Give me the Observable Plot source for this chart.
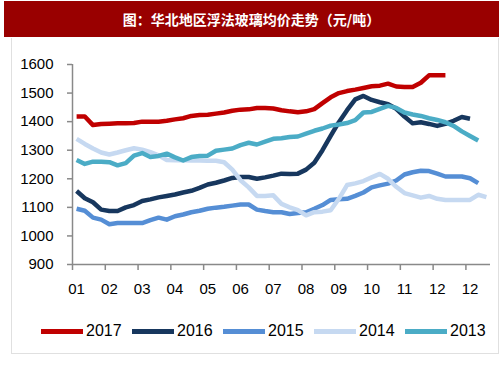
<!DOCTYPE html>
<html>
<head>
<meta charset="utf-8">
<script src="https://cdn.jsdelivr.net/npm/d3@7"></script>
<script src="https://cdn.jsdelivr.net/npm/@observablehq/plot@0.6"></script>
<style>
  html, body { margin: 0; padding: 0; background: #fff; }
  #page { position: relative; width: 503px; height: 378px; overflow: hidden; font-family: "Liberation Sans", Arial, sans-serif; }
  #title { position: absolute; left: 4px; top: 1px; width: 495px; height: 36px; background: #990000; color: #fff;
           font-family: "Noto Sans CJK SC", sans-serif; font-weight: bold; font-size: 14px; line-height: 36px; text-align: center; }
  #box { position: absolute; left: 11px; top: 38px; width: 486px; height: 315px; border: 1px solid #e0e0e0; border-top: none; }
  #chart { position: absolute; left: 0; top: 40px; }
  .leg { position: absolute; top: 322px; height: 18px; display: flex; align-items: center; font-size: 16px; color: #000; }
  .sw { width: 42px; height: 5px; margin-right: 3px; }
</style>
</head>
<body>
<div id="page">
  <div id="title">图：华北地区浮法玻璃均价走势（元/吨）</div>
  <div id="box"></div>
  <div id="chart"></div>
</div>
<script>
// ---- data ----
const years = ["2017", "2016", "2015", "2014", "2013"];
const colors = ["#c00000", "#17375e", "#558ed5", "#c6d9f1", "#4bacc6"];
const monthLabels = ["01","02","03","04","05","06","07","08","09","10","11","12","12"];
const yTicks = [900, 1000, 1100, 1200, 1300, 1400, 1500, 1600];

const v2017 = [1418,1418,1388,1392,1393,1394,1394,1395,1400,1400,1400,1403,1408,1412,1420,1423,1424,1428,1432,1438,1442,1443,1448,1448,1446,1440,1436,1433,1436,1444,1465,1485,1500,1507,1512,1518,1524,1526,1533,1523,1521,1521,1536,1562,1562,1562];
const v2016 = [1157,1132,1118,1092,1087,1087,1100,1108,1122,1128,1135,1140,1145,1152,1158,1168,1180,1186,1194,1203,1206,1206,1200,1205,1211,1218,1217,1218,1232,1256,1300,1350,1398,1440,1478,1490,1476,1468,1461,1445,1418,1394,1398,1392,1385,1392,1403,1416,1410];
const v2015 = [1095,1088,1064,1057,1041,1045,1045,1045,1045,1055,1064,1057,1069,1075,1083,1088,1095,1099,1102,1106,1110,1110,1092,1087,1083,1083,1077,1080,1083,1095,1108,1126,1128,1130,1140,1152,1170,1177,1183,1194,1215,1223,1228,1227,1218,1208,1208,1208,1202,1185];
const v2014 = [1340,1322,1306,1292,1285,1292,1300,1307,1302,1293,1282,1266,1265,1265,1264,1264,1263,1263,1258,1232,1195,1170,1140,1140,1142,1112,1100,1090,1072,1083,1085,1090,1130,1178,1184,1192,1205,1217,1200,1172,1150,1142,1134,1140,1130,1126,1126,1126,1126,1144,1136];
const v2013 = [1266,1252,1260,1260,1258,1247,1255,1281,1290,1276,1280,1288,1275,1264,1276,1280,1281,1298,1302,1306,1318,1326,1320,1330,1340,1342,1346,1348,1358,1368,1376,1386,1390,1395,1405,1432,1434,1445,1455,1448,1432,1425,1420,1412,1406,1398,1385,1366,1350,1334];

const seriesValues = [v2017, v2016, v2015, v2014, v2013];
const rows = [];
years.forEach((y, k) => seriesValues[k].forEach((v, i) => rows.push({year: y, week: i, value: v})));

const labelWeeks = monthLabels.map((_, k) => 4 * k);
const tickWeeks = monthLabels.map((_, k) => 4 * k - 0.5);
const axisGray = "#898989";

const chart = Plot.plot({
  width: 503,
  height: 300,
  marginLeft: 72,
  marginRight: 13,
  marginTop: 24,
  marginBottom: 76,
  style: { fontFamily: "'Liberation Sans', Arial, sans-serif", background: "transparent", color: "#000" },
  x: { domain: [-0.5, 50.5], axis: null },
  y: { domain: [900, 1600], axis: null },
  color: { domain: years, range: colors },
  marks: [
    Plot.ruleY([900], { stroke: axisGray, strokeWidth: 1.5 }),
    Plot.ruleX([-0.5], { y1: 900, y2: 1600, stroke: axisGray, strokeWidth: 1.5 }),
    Plot.axisY({ ticks: yTicks, tickSize: 5, tickPadding: 14, fontSize: 15, stroke: axisGray, strokeWidth: 1.5, fill: "#000",
                 tickFormat: d => String(d), label: null }),
    Plot.axisX({ ticks: tickWeeks, tickSize: 6, tickFormat: () => "", stroke: axisGray, strokeWidth: 1.5, label: null }),
    Plot.axisX({ ticks: labelWeeks, tickSize: 0, tickPadding: 19, fontSize: 15, fill: "#000",
                 tickFormat: d => monthLabels[labelWeeks.indexOf(d)], label: null }),
    Plot.line(rows, { x: "week", y: "value", z: "year", stroke: "year", strokeWidth: 4.5, strokeLinejoin: "round", strokeLinecap: "butt" })
  ]
});
document.getElementById("chart").appendChild(chart);

// legend
const page = document.getElementById("page");
years.forEach((y, k) => {
  const item = document.createElement("div");
  item.className = "leg";
  item.style.left = (41 + 91 * k) + "px";
  const sw = document.createElement("div");
  sw.className = "sw";
  sw.style.background = colors[k];
  const tx = document.createElement("span");
  tx.textContent = y;
  item.appendChild(sw);
  item.appendChild(tx);
  page.appendChild(item);
});
</script>
</body>
</html>
